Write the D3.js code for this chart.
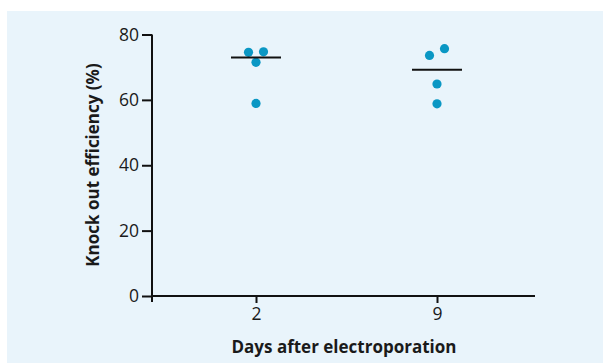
<!DOCTYPE html>
<html><head><meta charset="utf-8">
<script src="https://cdn.jsdelivr.net/npm/d3@7"></script>
<style>html,body{margin:0;padding:0;background:#fff;}svg{display:block;}</style>
</head><body>
<script>
const categories = ["2", "9"];
const valuesDay2 = [74.55, 74.7, 71.5, 58.9];
const valuesDay9 = [73.6, 75.65, 64.85, 58.8];
const medians = [73.0, 69.2];
const yTicks = [0, 20, 40, 60, 80];
const xTitle = "Days after electroporation";
const yTitle = "Knock out efficiency (%)";

const W = 603, H = 363;
const svg = d3.select("body").append("svg").attr("width", W).attr("height", H);
svg.append("rect").attr("x", 7).attr("y", 11).attr("width", W - 7).attr("height", H - 11).attr("fill", "#e9f4fb");

const x = d3.scalePoint().domain(categories).range([256, 437]);
const y = d3.scaleLinear().domain([0, 80]).range([296, 34.5]);
const font = "'Open Sans', 'Noto Sans', sans-serif";
const r = 4.6, spacing = 15;

// y axis
const yAxis = svg.append("g").attr("transform", "translate(152,0)")
  .call(d3.axisLeft(y).tickValues(yTicks).tickSize(10).tickPadding(3).tickSizeOuter(0));
yAxis.select(".domain").remove();
yAxis.selectAll(".tick line").attr("stroke", "#111").attr("stroke-width", 2);
yAxis.selectAll("text").attr("font-family", font).attr("font-size", 17.5).attr("fill", "#1a1a1a");
svg.append("line").attr("x1", 152).attr("x2", 152).attr("y1", y(80)).attr("y2", 302)
  .attr("stroke", "#111").attr("stroke-width", 2);

// x axis
const xAxis = svg.append("g").attr("transform", "translate(0,296)")
  .call(d3.axisBottom(x).tickSize(7).tickPadding(5).tickSizeOuter(0));
xAxis.select(".domain").remove();
xAxis.selectAll(".tick line").attr("stroke", "#111").attr("stroke-width", 2);
xAxis.selectAll("text").attr("font-family", font).attr("font-size", 17.5).attr("fill", "#1a1a1a");
svg.append("line").attr("x1", 151).attr("x2", 535).attr("y1", 296).attr("y2", 296)
  .attr("stroke", "#111").attr("stroke-width", 2);

// titles
svg.append("text").attr("x", 344).attr("y", 353).attr("text-anchor", "middle")
  .attr("font-family", font).attr("font-weight", "bold").attr("font-size", 17).attr("fill", "#1a1a1a").text(xTitle);
svg.append("text").attr("transform", "translate(99,165) rotate(-90)").attr("text-anchor", "middle")
  .attr("font-family", font).attr("font-weight", "bold").attr("font-size", 17).attr("fill", "#1a1a1a").text(yTitle);

// points with simple beeswarm clustering
function swarm(vals) {
  const sorted = vals.map(v => ({v, py: y(v)})).sort((a, b) => a.v - b.v);
  const clusters = [];
  sorted.forEach(p => {
    const last = clusters[clusters.length - 1];
    if (last && Math.abs(last[last.length - 1].py - p.py) < 2 * r) last.push(p);
    else clusters.push([p]);
  });
  const out = [];
  clusters.forEach(c => c.forEach((p, i) => out.push({v: p.v, dx: (i - (c.length - 1) / 2) * spacing})));
  return out;
}
const groups = [valuesDay2, valuesDay9];
categories.forEach((c, gi) => {
  const pts = swarm(groups[gi]);
  svg.append("g").selectAll("circle").data(pts).join("circle")
    .attr("cx", d => x(c) + d.dx).attr("cy", d => y(d.v)).attr("r", r).attr("fill", "#0a97c4");
  svg.append("line").attr("x1", x(c) - 25).attr("x2", x(c) + 25)
    .attr("y1", y(medians[gi])).attr("y2", y(medians[gi]))
    .attr("stroke", "#111").attr("stroke-width", 2);
});
</script>
</body></html>
